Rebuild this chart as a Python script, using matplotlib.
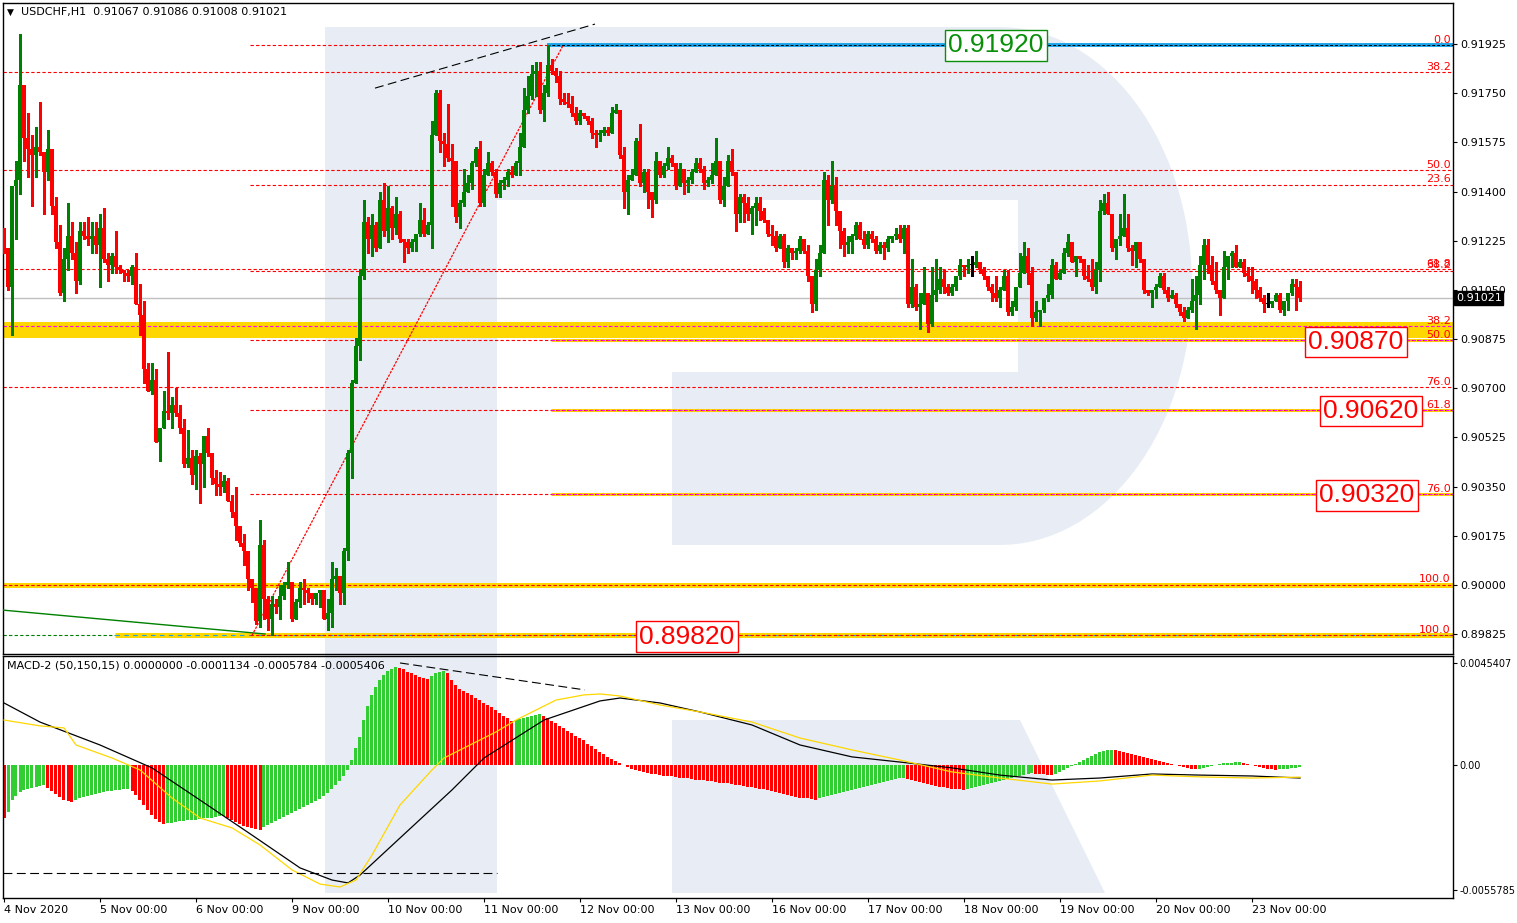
import numpy as np
import matplotlib
matplotlib.use('Agg')
import matplotlib.pyplot as plt
from matplotlib.patches import Polygon, Rectangle
import matplotlib.transforms as mtrans

plt.rcParams['font.family'] = ['DejaVu Sans']

# USDCHF H1, prices in pips (x 1e-4); open of each bar = previous close
first_open = 9123
closes = [
    9120, 9106, 9142, 9144, 9178, 9159, 9155, 9153, 9156, 9154,
    9147, 9155, 9135, 9122, 9104, 9116, 9124, 9118, 9108, 9126,
    9124, 9123, 9124, 9121, 9127, 9116, 9114, 9117, 9113, 9112,
    9111, 9110, 9113, 9100, 9096, 9077, 9069, 9073, 9051, 9056,
    9062, 9061, 9064, 9061, 9056, 9043, 9045, 9039, 9046, 9043,
    9053, 9047, 9038, 9036, 9035, 9037, 9030, 9026, 9021, 9015,
    9012, 9002, 8999, 8987, 9014, 8995, 8988, 8993, 8992, 8996,
    9000, 9001, 8988, 8994, 8999, 8998, 8997, 8995, 8997, 8998,
    8988, 8990, 9002, 9003, 8997, 9012, 9047, 9072, 9085, 9110,
    9129, 9123, 9128, 9120, 9137, 9126, 9134, 9127, 9132, 9123,
    9122, 9120, 9122, 9125, 9130, 9125, 9128, 9160, 9175, 9158,
    9157, 9152, 9151, 9131, 9136, 9140, 9143, 9150, 9155, 9136,
    9146, 9150, 9147, 9139, 9143, 9144, 9147, 9146, 9150, 9156,
    9169, 9174, 9182, 9183, 9169, 9175, 9185, 9183, 9181, 9173,
    9172, 9171, 9168, 9165, 9168, 9167, 9165, 9161, 9160, 9161,
    9162, 9161, 9168, 9169, 9153, 9140, 9144, 9146, 9158, 9143,
    9147, 9140, 9137, 9151, 9146, 9149, 9152, 9150, 9142, 9148,
    9143, 9144, 9147, 9150, 9148, 9143, 9144, 9146, 9151, 9137,
    9142, 9151, 9147, 9132, 9138, 9136, 9132, 9134, 9136, 9133,
    9130, 9125, 9124, 9120, 9124, 9115, 9120, 9118, 9119, 9123,
    9119, 9110, 9100, 9112, 9118, 9144, 9137, 9142, 9133, 9126,
    9121, 9122, 9124, 9128, 9123, 9121, 9125, 9123, 9119, 9121,
    9120, 9123, 9124, 9125, 9123, 9127, 9100, 9106, 9099, 9100,
    9104, 9093, 9103, 9105, 9109, 9106, 9104, 9106, 9110, 9114,
    9113, 9114, 9114, 9115, 9112, 9110, 9106, 9104, 9102, 9105,
    9110, 9097, 9099, 9106, 9111, 9117, 9111, 9095, 9097, 9098,
    9102, 9103, 9114, 9109, 9111, 9118, 9122, 9115, 9117, 9116,
    9110, 9109, 9106, 9112, 9133, 9136, 9132, 9120, 9123, 9124,
    9127, 9120, 9119, 9122, 9116, 9105, 9104, 9105, 9106, 9110,
    9105, 9102, 9103, 9100, 9097, 9095, 9098, 9101, 9103, 9114,
    9121, 9114, 9108, 9105, 9102, 9113, 9117, 9118, 9113, 9115,
    9111, 9110, 9108, 9105, 9102, 9100, 9100, 9101, 9103, 9098,
    9101, 9104, 9107, 9106, 9102,
]
highs = [
    9127, 9120, 9142, 9151, 9196, 9178, 9168, 9160, 9163, 9172,
    9154, 9162, 9155, 9138, 9128, 9120, 9136, 9129, 9122, 9129,
    9129, 9131, 9129, 9129, 9132, 9134, 9118, 9118, 9126, 9114,
    9112, 9112, 9114, 9118, 9107, 9101, 9079, 9079, 9077, 9056,
    9069, 9083, 9067, 9070, 9064, 9059, 9055, 9048, 9048, 9047,
    9053, 9056, 9047, 9041, 9040, 9039, 9038, 9032, 9035, 9021,
    9018, 9012, 9002, 8999, 9023, 9016, 8996, 8996, 8995, 9000,
    9001, 9008, 9001, 8995, 9001, 9002, 8999, 8997, 8997, 8998,
    8997, 8995, 9008, 9006, 9003, 9013, 9048, 9073, 9088, 9112,
    9137, 9131, 9132, 9129, 9140, 9143, 9142, 9135, 9138, 9133,
    9123, 9123, 9123, 9125, 9136, 9134, 9129, 9165, 9176, 9176,
    9161, 9171, 9157, 9151, 9137, 9148, 9146, 9151, 9156, 9158,
    9148, 9154, 9151, 9148, 9144, 9145, 9148, 9149, 9151, 9161,
    9177, 9181, 9185, 9186, 9186, 9178, 9192, 9187, 9184, 9183,
    9175, 9175, 9174, 9170, 9169, 9168, 9167, 9166, 9162, 9162,
    9163, 9163, 9170, 9171, 9169, 9156, 9146, 9148, 9159, 9164,
    9148, 9148, 9140, 9154, 9151, 9150, 9156, 9153, 9150, 9150,
    9148, 9145, 9148, 9152, 9152, 9149, 9145, 9150, 9159, 9151,
    9145, 9153, 9155, 9147, 9139, 9139, 9138, 9135, 9138, 9138,
    9134, 9129, 9128, 9126, 9125, 9125, 9121, 9120, 9120, 9124,
    9123, 9121, 9110, 9116, 9121, 9147, 9146, 9151, 9145, 9133,
    9127, 9124, 9125, 9129, 9129, 9126, 9126, 9126, 9124, 9122,
    9122, 9124, 9124, 9127, 9128, 9128, 9128, 9116, 9107, 9104,
    9113, 9104, 9113, 9116, 9113, 9112, 9107, 9107, 9110, 9116,
    9114, 9116, 9117, 9119, 9114, 9113, 9110, 9107, 9110, 9106,
    9112, 9112, 9101, 9106, 9118, 9122, 9120, 9113, 9101, 9098,
    9102, 9107, 9116, 9115, 9112, 9120, 9125, 9122, 9117, 9117,
    9116, 9114, 9116, 9115, 9137, 9139, 9140, 9132, 9123, 9132,
    9139, 9132, 9121, 9122, 9122, 9116, 9105, 9105, 9107, 9111,
    9111, 9106, 9105, 9104, 9100, 9099, 9099, 9109, 9110, 9117,
    9123, 9123, 9117, 9115, 9105, 9119, 9117, 9119, 9121, 9116,
    9116, 9113, 9113, 9109, 9106, 9103, 9104, 9101, 9104, 9104,
    9101, 9104, 9109, 9109, 9108,
]
lows = [
    9118, 9105, 9089, 9123, 9139, 9151, 9145, 9135, 9145, 9153,
    9132, 9144, 9132, 9120, 9103, 9101, 9112, 9116, 9104, 9107,
    9123, 9121, 9118, 9118, 9106, 9115, 9108, 9111, 9111, 9111,
    9108, 9108, 9107, 9100, 9089, 9072, 9069, 9068, 9051, 9044,
    9056, 9059, 9056, 9060, 9054, 9042, 9042, 9036, 9034, 9029,
    9035, 9046, 9036, 9032, 9032, 9033, 9030, 9024, 9016, 9014,
    9007, 8998, 8994, 8986, 8985, 8988, 8984, 8982, 8990, 8988,
    8995, 8999, 8987, 8988, 8992, 8993, 8994, 8993, 8993, 8992,
    8988, 8984, 8985, 8998, 8993, 8993, 9009, 9038, 9072, 9080,
    9109, 9118, 9117, 9119, 9120, 9124, 9122, 9123, 9125, 9122,
    9115, 9118, 9119, 9119, 9124, 9124, 9125, 9120, 9160, 9154,
    9149, 9151, 9135, 9129, 9127, 9135, 9140, 9141, 9149, 9135,
    9135, 9146, 9146, 9138, 9138, 9141, 9142, 9145, 9146, 9146,
    9156, 9168, 9173, 9174, 9168, 9165, 9174, 9182, 9179, 9171,
    9171, 9170, 9167, 9164, 9164, 9166, 9164, 9159, 9156, 9158,
    9160, 9160, 9161, 9168, 9152, 9134, 9132, 9144, 9146, 9142,
    9140, 9134, 9131, 9136, 9145, 9145, 9148, 9149, 9141, 9143,
    9139, 9140, 9143, 9147, 9147, 9141, 9142, 9143, 9146, 9136,
    9135, 9142, 9146, 9126, 9129, 9129, 9130, 9125, 9128, 9130,
    9129, 9124, 9121, 9119, 9120, 9113, 9113, 9116, 9116, 9118,
    9118, 9108, 9097, 9098, 9110, 9118, 9128, 9136, 9128, 9120,
    9117, 9118, 9118, 9123, 9123, 9120, 9120, 9122, 9118, 9118,
    9116, 9119, 9122, 9123, 9122, 9118, 9099, 9099, 9098, 9091,
    9100, 9090, 9092, 9101, 9104, 9104, 9103, 9103, 9105, 9109,
    9110, 9111, 9110, 9113, 9111, 9109, 9105, 9101, 9101, 9099,
    9105, 9096, 9096, 9098, 9106, 9111, 9107, 9092, 9094, 9092,
    9097, 9101, 9102, 9109, 9109, 9111, 9117, 9115, 9110, 9115,
    9109, 9108, 9105, 9104, 9108, 9132, 9132, 9119, 9116, 9121,
    9124, 9119, 9114, 9113, 9115, 9104, 9103, 9099, 9102, 9106,
    9104, 9101, 9102, 9099, 9096, 9094, 9095, 9097, 9091, 9100,
    9109, 9111, 9107, 9104, 9096, 9102, 9109, 9113, 9113, 9113,
    9110, 9108, 9104, 9102, 9101, 9097, 9099, 9099, 9101, 9097,
    9096, 9098, 9103, 9098, 9101,
]

# MACD-2 histogram per bar (x 1e-4)
hist = [
    -23.6, -20.9, -15.6, -13.8, -12.0, -11.1, -10.7, -10.2, -9.8, -9.3,
    -9.1, -10.2, -11.6, -12.9, -14.2, -15.6, -16.0, -16.5, -15.6, -14.7,
    -14.2, -13.8, -13.4, -12.9, -12.5, -12.0, -11.8, -11.6, -11.3, -11.1,
    -10.9, -10.7, -11.6, -13.4, -15.6, -17.8, -20.0, -22.3, -24.0, -25.4,
    -26.3, -25.8, -25.6, -25.4, -25.1, -24.9, -24.7, -24.5, -24.3, -24.0,
    -23.8, -23.6, -23.4, -23.1, -22.9, -22.7, -23.6, -24.5, -25.4, -26.3,
    -27.1, -27.6, -28.0, -28.5, -28.9, -27.6, -26.7, -25.8, -24.9, -24.0,
    -23.1, -22.3, -21.4, -20.5, -19.6, -18.7, -17.8, -16.9, -16.0, -15.1,
    -13.8, -12.5, -10.7, -8.9, -7.1, -4.9, -2.2, 2.2, 7.6, 12.5,
    20.0, 26.3, 31.2, 34.7, 37.8, 40.1, 41.8, 42.7, 43.6, 43.2,
    42.7, 41.4, 40.9, 40.1, 39.2, 38.7, 38.3, 39.6, 40.9, 41.4,
    41.8, 40.9, 37.8, 35.6, 33.8, 32.9, 32.0, 31.2, 29.8, 28.9,
    27.6, 26.7, 25.8, 24.5, 23.1, 21.8, 20.9, 19.6, 20.0, 20.5,
    20.9, 21.4, 21.8, 22.3, 22.7, 21.8, 20.9, 19.6, 18.7, 17.4,
    16.5, 15.1, 14.2, 12.9, 12.0, 11.1, 9.3, 8.5, 7.1, 5.8,
    4.9, 3.6, 2.7, 1.8, 0.9, -0.2, -0.9, -1.8, -2.2, -2.7,
    -3.1, -3.6, -4.0, -4.2, -4.5, -4.7, -4.9, -5.1, -5.3, -5.6,
    -5.8, -6.0, -6.2, -6.5, -6.7, -6.9, -7.1, -7.3, -7.6, -7.8,
    -8.0, -8.2, -8.5, -8.7, -8.9, -9.3, -9.6, -9.8, -10.2, -10.5,
    -10.7, -11.1, -11.6, -12.0, -12.5, -12.9, -13.4, -13.8, -14.2, -14.5,
    -14.7, -14.9, -15.1, -15.4, -14.7, -14.2, -13.8, -13.4, -12.9, -12.5,
    -12.0, -11.6, -11.1, -10.7, -10.2, -9.8, -9.3, -8.9, -8.5, -8.0,
    -7.6, -7.1, -6.7, -6.2, -6.0, -5.8, -6.2, -6.7, -7.1, -7.6,
    -8.0, -8.5, -8.9, -9.3, -9.8, -10.0, -10.2, -10.5, -10.7, -10.9,
    -11.1, -10.7, -10.2, -9.8, -9.3, -8.9, -8.5, -8.0, -7.6, -7.1,
    -6.7, -6.2, -5.8, -5.3, -4.9, -4.5, -4.0, -3.6, -3.8, -4.0,
    -4.2, -4.5, -4.6, -4.0, -3.1, -2.2, -1.3, -0.4, 0.4, 1.3,
    2.2, 3.1, 4.0, 4.9, 5.8, 6.2, 6.7, 6.8, 6.5, 6.2,
    5.8, 5.3, 4.9, 4.5, 4.0, 3.6, 3.1, 2.7, 2.2, 1.8,
    1.3, 0.9, 0.4, -0.1, -0.4, -0.9, -1.3, -1.8, -2.0, -1.8,
    -1.3, -0.9, -0.4, 0.1, 0.4, 0.7, 0.9, 1.1, 1.3, 1.4,
    1.1, 0.6, 0.1, -0.4, -0.9, -1.3, -1.7, -2.0, -2.2, -2.0,
    -1.8, -1.6, -1.4, -1.2, -1.1,
]
black_x = [0, 9, 24, 37, 49, 62, 74, 82, 86, 89, 99, 112, 120, 124, 135, 149,
           154, 164, 174, 187, 199, 212, 224, 237, 249, 262, 274, 287, 299, 312, 324]
black_v = [27.6, 19.1, 8.9, -1.3, -15.6, -31.2, -45.8, -51.2, -52.5, -49.0, -32.5,
           -11.1, 3.1, 7.6, 20.0, 28.5, 29.8, 27.6, 23.6, 17.8, 8.9, 3.6, 1.3, -1.3,
           -4.5, -6.7, -5.8, -4.0, -4.5, -4.9, -5.8]
yellow_x = [0, 9, 15, 18, 27, 34, 42, 49, 57, 64, 72, 79, 84, 88, 92, 99, 107, 110,
            123, 128, 138, 145, 149, 154, 164, 174, 187, 199, 212, 224, 237, 249,
            262, 274, 287, 299, 312, 324]
yellow_v = [20.0, 17.4, 16.5, 8.9, 3.1, -2.2, -14.7, -23.6, -28.0, -35.6, -46.7,
            -53.0, -54.3, -51.2, -40.1, -17.8, -2.2, 3.1, 14.7, 20.0, 28.9, 31.2,
            31.6, 30.7, 26.7, 23.6, 19.1, 12.0, 6.7, 2.2, -3.1, -5.8, -8.5, -7.1,
            -4.5, -5.3, -5.8, -5.4]

day_bars = [0, 24, 48, 72, 96, 120, 144, 168, 192, 216, 240, 264, 288, 312]
day_labels = ['4 Nov 2020', '5 Nov 00:00', '6 Nov 00:00', '9 Nov 00:00', '10 Nov 00:00',
              '11 Nov 00:00', '12 Nov 00:00', '13 Nov 00:00', '16 Nov 00:00',
              '17 Nov 00:00', '18 Nov 00:00', '19 Nov 00:00', '20 Nov 00:00',
              '23 Nov 00:00']
price_ticks = [0.91925, 0.91750, 0.91575, 0.91400, 0.91225, 0.91050, 0.90875,
               0.90700, 0.90525, 0.90350, 0.90175, 0.90000, 0.89825]

# fibo levels: (label, price)
fibo_a = [('38.2', 0.91825), ('50.0', 0.91475), ('61.8', 0.91124),
          ('76.0', 0.90704), ('100.0', 0.90000)]
fibo_b = [('0.0', 0.91920), ('23.6', 0.91424), ('38.2', 0.91118), ('50.0', 0.90870),
          ('61.8', 0.90622), ('76.0', 0.90324), ('100.0', 0.89820)]
fibo_c = [('38.2', 0.90921), ('50.0', 0.90870), ('61.8', 0.90622), ('76.0', 0.90323)]
last_price = 0.91021

W, H = 1517, 923
RED = '#FF0000'
GREEN = '#008000'
GOLD = '#FFD700'
DOT = (0, (3, 2))
FS = 8


def draw_logo(ax):
    c = '#E8EDF5'
    ax.add_patch(Rectangle((325, 27), 172, 866, color=c, lw=0))
    t = np.linspace(-np.pi / 2, np.pi / 2, 60)
    arc = list(zip(1000 + 192 * np.cos(t), 286 + 259 * np.sin(t)))
    bowl = [(497, 27)] + arc + [(672, 545), (672, 372), (1018, 372), (1018, 200), (497, 200)]
    ax.add_patch(Polygon(bowl, closed=True, color=c, lw=0))
    ax.add_patch(Polygon([(672, 720), (1020, 720), (1105, 893), (672, 893)],
                         closed=True, color=c, lw=0))


def draw_candles(ax):
    c = np.array(closes) / 1e4
    o = np.array([first_open] + closes[:-1]) / 1e4
    hi = np.array(highs) / 1e4
    lo = np.array(lows) / 1e4
    x = np.arange(len(c))
    cols = [GREEN if cc > oo else (RED if cc < oo else 'black') for cc, oo in zip(c, o)]
    top = np.maximum(np.maximum(o, c), hi)
    bot = np.minimum(np.minimum(o, c), lo)
    ax.vlines(x, bot, top, colors=cols, lw=1.0, zorder=4, antialiased=False)
    height = np.maximum(np.abs(c - o), 0.00003)
    ax.bar(x, height, bottom=np.minimum(o, c), width=0.78, color=cols, lw=0,
           zorder=4, antialiased=False)


def level_label(ax, text, price, color=RED):
    ax.annotate(text, xy=(1, price), xycoords=('axes fraction', 'data'),
                xytext=(-1.5, 0.3), textcoords='offset points', ha='right',
                va='bottom', fontsize=FS, color=color, zorder=6)


def box_label(ax, text, x, y, color):
    ax.text(x, y, text, fontsize=19, family='Liberation Sans', color=color,
            ha='center', va='center', zorder=7,
            bbox=dict(boxstyle='square,pad=0.12', fc='white', ec=color, lw=1))


def main():
    fig = plt.figure(figsize=(W / 100, H / 100), dpi=100)
    bg = fig.add_axes([0, 0, 1, 1], zorder=0)
    bg.set_xlim(0, W)
    bg.set_ylim(H, 0)
    bg.axis('off')
    draw_logo(bg)

    ax = fig.add_axes([3 / W, (H - 654) / H, 1450 / W, 651 / H], zorder=1)
    ax.set_facecolor('none')
    ax.set_xlim(-0.25, 362.25)
    ax.set_ylim(0.897538, 0.92071)
    end = 362.25

    # bands and levels
    ax.axhspan(0.90879, 0.90936, color=GOLD, lw=0, zorder=1)
    ax.axhline(0.90000, color=GOLD, lw=3.6, zorder=1)
    ax.hlines(0.89821, 27.75, end, color=GOLD, lw=3.6, zorder=1)
    ax.hlines(0.89821, -0.25, 27.75, color=GREEN, lw=0.8, linestyles=DOT, zorder=2)
    ax.hlines(0.89821, 27.75, end, color='#1AA3E8', lw=0.8, linestyles=(0, (4, 4)), zorder=2)
    for name, p in fibo_c[1:]:
        ax.hlines(p, 136.75, end, color=GOLD, lw=2.2, zorder=1)
    for name, p in fibo_a:
        ax.axhline(p, color=RED, lw=0.8, ls=DOT, zorder=2)
    for name, p in fibo_b:
        ax.hlines(p, 61.5, end, color=RED, lw=0.8, linestyles=DOT, zorder=2)
    ax.axhline(fibo_c[0][1], color='#FF00FF', lw=0.8, ls=DOT, zorder=2)
    for name, p in fibo_c[1:]:
        ax.hlines(p, 136.75, end, color='#FF00FF', lw=0.8, linestyles=DOT, zorder=2)

    ax.hlines(0.91920, 135.75, end, color='#1AA3E8', lw=2.8, zorder=2)
    ax.hlines(0.91920, 135.75, end, color='black', lw=0.7, linestyles=DOT, zorder=2)
    ax.axhline(last_price, color='#C0C0C0', lw=1.0, zorder=1)

    # trend lines
    ax.plot([-0.25, 65.25], [0.89910, 0.89825], color=GREEN, lw=1.0, zorder=3)
    ax.plot([62, 139.75], [0.89820, 0.91920], color=RED, lw=0.9, ls=(0, (2, 1)), zorder=3)
    ax.plot([92.75, 147.75], [0.91768, 0.91996], color='black', lw=0.8,
            ls=(0, (8, 4)), zorder=3)

    draw_candles(ax)

    for name, p in fibo_a:
        level_label(ax, name, p)
    for name, p in fibo_b:
        if name not in ('50.0', '61.8', '76.0'):
            level_label(ax, name, p)
    for name, p in fibo_c:
        level_label(ax, name, p)

    box_label(ax, '0.91920', 248, 0.91920, '#0A8F0A')
    box_label(ax, '0.90870', 338, 0.90864, RED)
    box_label(ax, '0.90620', 341.75, 0.90619, RED)
    box_label(ax, '0.90320', 340.75, 0.90318, RED)
    box_label(ax, '0.89820', 170.75, 0.89816, RED)

    ax.yaxis.tick_right()
    ax.set_yticks(price_ticks)
    ax.set_yticklabels(['%.5f' % p for p in price_ticks])
    ax.tick_params(axis='y', length=3, width=0.8, labelsize=FS, pad=2, direction='out')
    ax.set_xticks([])
    for s in ax.spines.values():
        s.set_linewidth(1.0)
    tr = mtrans.blended_transform_factory(ax.transAxes, ax.transData)
    ax.text(1.002, last_price, '%.5f' % last_price, transform=tr, fontsize=FS,
            color='white', va='center', ha='left', zorder=8, clip_on=False,
            bbox=dict(boxstyle='square,pad=0.15', fc='black', ec='black'))

    # MACD panel
    m = fig.add_axes([3 / W, (H - 898) / H, 1450 / W, 242 / H], zorder=1)
    m.set_facecolor('none')
    m.set_xlim(-0.25, 362.25)
    m.set_ylim(-0.00592, 0.00485)
    hv = np.array(hist) / 1e4
    hcols = [RED] + ['#32CD32' if hv[i] >= hv[i - 1] else RED for i in range(1, len(hv))]
    m.bar(np.arange(len(hv)), hv, width=0.75, color=hcols, lw=0, zorder=2,
          antialiased=False)
    m.plot(black_x, np.array(black_v) / 1e4, color='black', lw=0.9, zorder=3)
    m.plot(yellow_x, np.array(yellow_v) / 1e4, color=GOLD, lw=0.9, zorder=3)
    m.plot([99, 145.25], [0.00454, 0.00334], color='black', lw=0.8, ls=(0, (8, 4)), zorder=3)
    m.plot([-0.25, 123.25], [-0.00481, -0.00481], color='black', lw=0.8,
           ls=(0, (8, 4)), zorder=3)
    m.yaxis.tick_right()
    m.set_yticks([0.0045407, 0.0, -0.0055785])
    m.set_yticklabels(['0.0045407', '0.00', '-0.0055785'])
    m.tick_params(axis='y', length=3, width=0.8, labelsize=7, pad=1.5)
    m.set_xticks(day_bars)
    m.set_xticklabels(day_labels, ha='left')
    m.tick_params(axis='x', length=3, width=0.8, labelsize=FS, pad=2)
    for s in m.spines.values():
        s.set_linewidth(1.0)

    fig.text(7 / W, 1 - 12 / H, '\u25bc', fontsize=6.5, va='center')
    fig.text(21 / W, 1 - 12 / H, 'USDCHF,H1  0.91067 0.91086 0.91008 0.91021',
             fontsize=FS, va='center')
    fig.text(7 / W, 1 - 666 / H,
             'MACD-2 (50,150,15) 0.0000000 -0.0001134 -0.0005784 -0.0005406',
             fontsize=FS, va='center', zorder=5)

    fig.savefig('out.png', dpi=100)


if __name__ == "__main__":
    main()
